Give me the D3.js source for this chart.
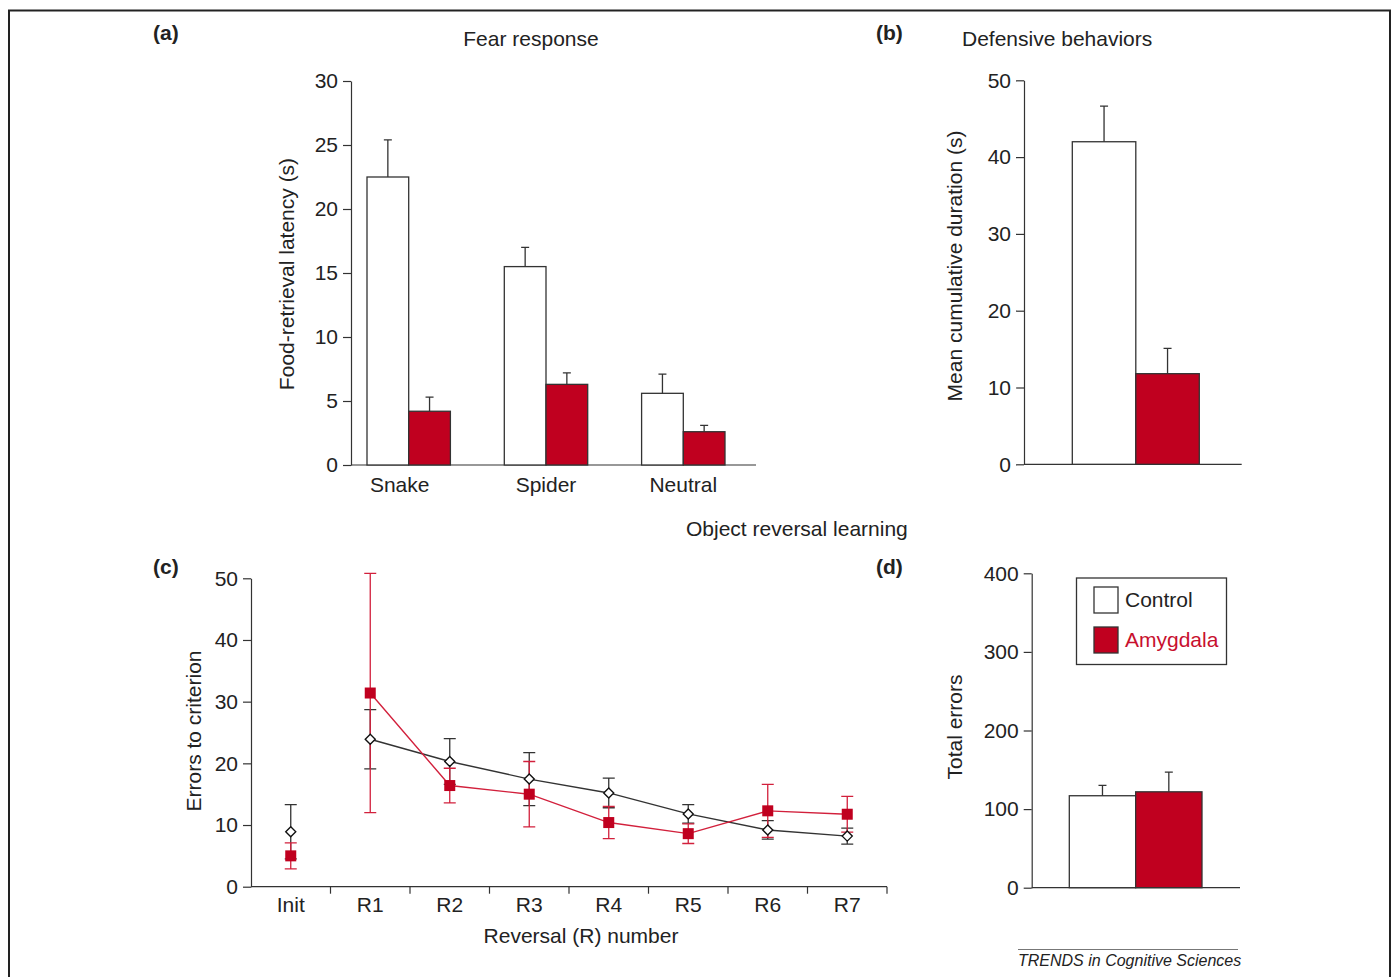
<!DOCTYPE html>
<html>
<head>
    <title>Amygdala lesions</title>
    <script src="https://cdn.jsdelivr.net/npm/d3@7"></script>
    <style>
        body { margin: 0; background: #fff; }
        text { font-family: "Liberation Sans", Arial, Helvetica, sans-serif; fill: #222; }
    </style>
</head>
<body>
    <svg width="1392" height="977" id="mainsvg"></svg>
    <script>
        // data
        const fearCats = ['Snake', 'Spider', 'Neutral'];
        const fearControl = [22.5, 15.5, 5.6];
        const fearControlErr = [2.9, 1.5, 1.5];
        const fearAmyg = [4.2, 6.3, 2.6];
        const fearAmygErr = [1.1, 0.9, 0.5];
        const fearTicks = [0, 5, 10, 15, 20, 25, 30];

        const defenseValues = [42.0, 11.8];
        const defenseErr = [4.65, 3.3];
        const defenseTicks = [0, 10, 20, 30, 40, 50];

        const reversalCats = ['Init', 'R1', 'R2', 'R3', 'R4', 'R5', 'R6', 'R7'];
        const reversalControl = [8.9, 23.9, 20.3, 17.45, 15.2, 11.8, 9.2, 8.2];
        const reversalControlErr = [4.4, 4.8, 3.7, 4.3, 2.4, 1.5, 1.5, 1.3];
        const reversalAmyg = [5.0, 31.4, 16.4, 15.0, 10.4, 8.6, 12.3, 11.75];
        const reversalAmygErr = [2.1, 19.4, 2.8, 5.3, 2.6, 1.6, 4.3, 2.9];
        const reversalTicks = [0, 10, 20, 30, 40, 50];

        const totalValues = [117, 122];
        const totalErr = [13.3, 25];
        const totalTicks = [0, 100, 200, 300, 400];

        const groups = ['Control', 'Amygdala'];

        const RED = '#c0001f';
        const LINE_RED = '#d2203c';
        const INK = '#333';
        const FS = 21;

        const svg = d3.select('svg');

        // frame
        svg.append('rect').attr('x', 9).attr('y', 10.5).attr('width', 1381).attr('height', 1000)
            .attr('fill', 'none').attr('stroke', '#222').attr('stroke-width', 2);

        function yAxis(scale, x, ticks) {
            const g = svg.append('g').attr('transform', `translate(${x},0)`)
                .call(d3.axisLeft(scale).tickValues(ticks).tickSize(8).tickSizeOuter(0).tickPadding(5));
            g.selectAll('path, line').attr('stroke', INK).attr('stroke-width', 1.2);
            g.selectAll('text').attr('font-size', FS).attr('fill', '#222')
                .style('font-family', '"Liberation Sans", Arial, sans-serif');
            return g;
        }

        function baseline(x0, x1, y) {
            svg.append('line').attr('x1', x0).attr('x2', x1).attr('y1', y).attr('y2', y)
                .attr('stroke', INK).attr('stroke-width', 1.2);
        }

        function label(txt, x, y, opts = {}) {
            const t = svg.append('text').attr('x', x).attr('y', y).text(txt)
                .attr('font-size', opts.size || FS)
                .attr('text-anchor', opts.anchor || 'start');
            if (opts.bold) t.attr('font-weight', 'bold');
            if (opts.italic) t.attr('font-style', 'italic');
            if (opts.fill) t.style('fill', opts.fill);
            if (opts.rotate) t.attr('transform', `rotate(-90,${x},${y})`).attr('dy', '0.35em');
            return t;
        }

        // bars with upward error whiskers
        function bars(data, y, fill) {
            svg.selectAll(null).data(data).join('rect')
                .attr('x', d => d.x).attr('width', d => d.w)
                .attr('y', d => y(d.v)).attr('height', d => y(0) - y(d.v))
                .attr('fill', fill).attr('stroke', INK).attr('stroke-width', 1.3);
            svg.selectAll(null).data(data).join('path')
                .attr('d', d => {
                    const cx = d.x + d.w / 2;
                    return `M${cx},${y(d.v)}V${y(d.v + d.e)}M${cx - 4},${y(d.v + d.e)}H${cx + 4}`;
                })
                .attr('fill', 'none').attr('stroke', INK).attr('stroke-width', 1.3);
        }

        // ---------- (a) Fear response ----------
        const yA = d3.scaleLinear().domain([0, 30]).range([465, 81]);
        const xA = d3.scalePoint().domain(fearCats).range([408.7, 683.3]);
        const bwA = 41.7;
        baseline(351, 756, yA(0));
        bars(fearCats.map((c, i) => ({x: xA(c) - bwA, w: bwA, v: fearControl[i], e: fearControlErr[i]})), yA, '#fff');
        bars(fearCats.map((c, i) => ({x: xA(c), w: bwA, v: fearAmyg[i], e: fearAmygErr[i]})), yA, RED);
        yAxis(yA, 351, fearTicks);
        fearCats.forEach(c => label(c, xA(c) - (c === 'Snake' ? 9 : 0), 492, {anchor: 'middle'}));
        label('Food-retrieval latency (s)', 287, 274, {anchor: 'middle', rotate: true});
        label('Fear response', 531, 46, {anchor: 'middle'});
        label('(a)', 153, 40, {bold: true});

        // ---------- (b) Defensive behaviors ----------
        const yB = d3.scaleLinear().domain([0, 50]).range([464.3, 80.3]);
        const xB = d3.scaleBand().domain(groups).range([1072.3, 1199.3]);
        baseline(1024, 1241.7, yB(0));
        const defense = groups.map((g, i) => ({x: xB(g), w: xB.bandwidth(), v: defenseValues[i], e: defenseErr[i]}));
        bars(defense.slice(0, 1), yB, '#fff');
        bars(defense.slice(1), yB, RED);
        yAxis(yB, 1024, defenseTicks);
        label('Mean cumulative duration (s)', 955, 266, {anchor: 'middle', rotate: true});
        label('Defensive behaviors', 962, 46);
        label('(b)', 876, 40, {bold: true});

        // ---------- (c) Errors to criterion ----------
        const yC = d3.scaleLinear().domain([0, 50]).range([886.7, 578.3]);
        const xC = d3.scaleBand().domain(reversalCats).range([251, 887]);
        const cx = c => xC(c) + xC.bandwidth() / 2;
        baseline(251, 887, yC(0));
        svg.selectAll(null).data(reversalCats).join('line')
            .attr('x1', c => xC(c) + xC.bandwidth()).attr('x2', c => xC(c) + xC.bandwidth())
            .attr('y1', yC(0)).attr('y2', yC(0) + 7)
            .attr('stroke', INK).attr('stroke-width', 1.2);
        svg.selectAll(null).data(reversalCats).join('text')
            .attr('x', cx).attr('y', 912).attr('text-anchor', 'middle').attr('font-size', FS)
            .text(d => d);

        const ctrlPts = reversalCats.map((c, i) => ({c, v: reversalControl[i], e: reversalControlErr[i]}));
        const amygPts = reversalCats.map((c, i) => ({c, v: reversalAmyg[i], e: reversalAmygErr[i]}));
        const line = d3.line().x(d => cx(d.c)).y(d => yC(d.v));

        function whiskers(pts, color) {
            svg.selectAll(null).data(pts).join('path')
                .attr('d', d => {
                    const x = cx(d.c), y1 = yC(d.v + d.e), y0 = yC(d.v - d.e);
                    return `M${x},${y0}V${y1}M${x - 6},${y1}H${x + 6}M${x - 6},${y0}H${x + 6}`;
                })
                .attr('fill', 'none').attr('stroke', color).attr('stroke-width', 1.3);
        }

        whiskers(ctrlPts, INK);
        whiskers(amygPts, LINE_RED);
        svg.append('path').datum(ctrlPts.slice(1)).attr('d', line)
            .attr('fill', 'none').attr('stroke', INK).attr('stroke-width', 1.4);
        svg.append('path').datum(amygPts.slice(1)).attr('d', line)
            .attr('fill', 'none').attr('stroke', LINE_RED).attr('stroke-width', 1.4);
        svg.selectAll(null).data(amygPts).join('rect')
            .attr('x', d => cx(d.c) - 5.5).attr('y', d => yC(d.v) - 5.5)
            .attr('width', 11).attr('height', 11).attr('fill', RED);
        svg.selectAll(null).data(ctrlPts).join('path')
            .attr('d', d3.symbol().type(d3.symbolDiamond2).size(64))
            .attr('transform', d => `translate(${cx(d.c)},${yC(d.v)})`)
            .attr('fill', '#fff').attr('stroke', '#111').attr('stroke-width', 1.4);

        yAxis(yC, 251, reversalTicks);
        label('Errors to criterion', 194, 731, {anchor: 'middle', rotate: true});
        label('Reversal (R) number', 581, 943, {anchor: 'middle'});
        label('Object reversal learning', 686, 536);
        label('(c)', 153, 574, {bold: true});

        // ---------- (d) Total errors ----------
        const yD = d3.scaleLinear().domain([0, 400]).range([887.7, 573.3]);
        const xD = d3.scaleBand().domain(groups).range([1069.3, 1202]);
        baseline(1031.7, 1240, yD(0));
        const totals = groups.map((g, i) => ({x: xD(g), w: xD.bandwidth(), v: totalValues[i], e: totalErr[i]}));
        bars(totals.slice(0, 1), yD, '#fff');
        bars(totals.slice(1), yD, RED);
        yAxis(yD, 1031.7, totalTicks);
        label('Total errors', 955, 727, {anchor: 'middle', rotate: true});
        label('(d)', 876, 574, {bold: true});

        // legend
        svg.append('rect').attr('x', 1076.5).attr('y', 578).attr('width', 150).attr('height', 86.5)
            .attr('fill', '#fff').attr('stroke', INK).attr('stroke-width', 1.3);
        const legY = d3.scalePoint().domain(groups).range([600, 640]);
        svg.selectAll(null).data(groups).join('rect')
            .attr('x', 1094).attr('y', g => legY(g) - 13).attr('width', 24).attr('height', 26)
            .attr('fill', (g, i) => i ? RED : '#fff').attr('stroke', INK).attr('stroke-width', 1.3);
        svg.selectAll(null).data(groups).join('text')
            .attr('x', 1125).attr('y', g => legY(g)).attr('dy', '0.35em').attr('font-size', FS)
            .style('fill', (g, i) => i ? '#c8102e' : '#222')
            .text(g => g);

        // source line
        svg.append('line').attr('x1', 1018).attr('x2', 1238).attr('y1', 949.5).attr('y2', 949.5)
            .attr('stroke', '#777').attr('stroke-width', 1);
        label('TRENDS in Cognitive Sciences', 1018, 966, {size: 16, italic: true});
    </script>
</body>
</html>
